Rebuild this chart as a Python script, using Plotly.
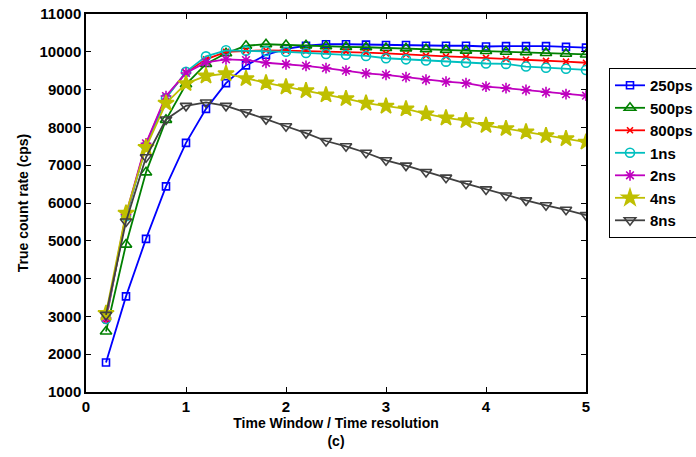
import plotly.graph_objects as go

x_vals = [round(0.2 * i, 1) for i in range(1, 26)]

names = ["250ps", "500ps", "800ps", "1ns", "2ns", "4ns", "8ns"]

ps250 = [1780, 3530, 5050, 6440, 7590, 8490, 9170, 9640, 9920, 10080, 10160, 10200, 10200,
         10190, 10180, 10180, 10160, 10160, 10160, 10140, 10150, 10150, 10150, 10130, 10110]
ps500 = [2600, 4900, 6810, 8200, 9140, 9680, 9960, 10160, 10200, 10180, 10170, 10150, 10130,
         10120, 10100, 10090, 10070, 10050, 10030, 10020, 10000, 9990, 9970, 9950, 9930]
ps800 = [2900, 5650, 7550, 8800, 9450, 9800, 10000, 10030, 10040, 10030, 10020, 10010, 10000,
         9980, 9960, 9930, 9900, 9880, 9860, 9840, 9810, 9790, 9760, 9740, 9710]
ns1 = [2930, 5650, 7500, 8770, 9470, 9880, 10040, 10030, 10020, 10000, 9970, 9940, 9920,
       9890, 9830, 9800, 9770, 9740, 9710, 9690, 9680, 9610, 9580, 9550, 9520]
ns2 = [2960, 5700, 7580, 8830, 9440, 9720, 9800, 9780, 9710, 9670, 9630, 9570, 9500,
       9430, 9390, 9330, 9260, 9210, 9170, 9080, 9040, 8990, 8930, 8880, 8840]
ns4 = [3080, 5730, 7470, 8640, 9160, 9360, 9420, 9290, 9180, 9070, 8970, 8860, 8760,
       8640, 8560, 8490, 8360, 8250, 8180, 8050, 7970, 7880, 7780, 7700, 7610]
ns8 = [3040, 5510, 7210, 8210, 8570, 8660, 8570, 8400, 8220, 8030, 7850, 7640, 7500,
       7330, 7130, 6990, 6820, 6670, 6510, 6360, 6200, 6070, 5940, 5820, 5680]

series = [ps250, ps500, ps800, ns1, ns2, ns4, ns8]
colors = ["#0000FF", "#008000", "#FF0000", "#00BFBF", "#BF00BF", "#BFBF00", "#404040"]
symbols = ["square-open", "triangle-up-open", "x-thin-open", "circle-open",
           "asterisk-open", "star", "triangle-down-open"]
sizes = [7, 10, 6, 9, 9, 12, 10]

x_ticks = [0, 1, 2, 3, 4, 5]
y_ticks = list(range(1000, 11001, 1000))
y_ticktext = [str(v) for v in y_ticks]

FONT = "Liberation Sans, Arial, sans-serif"

fig = go.Figure()
for name, ys, c, s, sz in zip(names, series, colors, symbols, sizes):
    fig.add_trace(go.Scatter(
        x=x_vals, y=ys, name=name, mode="lines+markers",
        line=dict(color=c, width=1.8),
        marker=dict(symbol=s, size=sz, color=c, line=dict(color=c, width=1.6)),
    ))

axis_common = dict(
    showline=True, linecolor="black", linewidth=1.5, mirror="ticks",
    ticks="inside", ticklen=5, tickwidth=1, tickcolor="black",
    showgrid=False, zeroline=False,
    tickfont=dict(family=FONT, size=15, color="black", weight="bold"),
)

fig.update_layout(
    width=696, height=457,
    margin=dict(l=86, r=110, t=14, b=65, autoexpand=False),
    paper_bgcolor="white", plot_bgcolor="white",
    xaxis=dict(range=[0, 5], tickvals=x_ticks,
               title=dict(text="Time Window / Time resolution<br>(c)",
                          font=dict(family=FONT, size=14, color="black", weight="bold"),
                          standoff=2),
               **axis_common),
    yaxis=dict(range=[1000, 11000], tickvals=y_ticks, ticktext=y_ticktext,
               title=dict(text="True count rate (cps)",
                          font=dict(family=FONT, size=14, color="black", weight="bold"),
                          standoff=8),
               **axis_common),
    legend=dict(x=1.046, y=0.857, xanchor="left", yanchor="top",
                bordercolor="black", borderwidth=1, bgcolor="white",
                font=dict(family=FONT, size=15, color="black", weight="bold"),
                itemwidth=30, tracegroupgap=0),
    showlegend=True,
)

fig.write_html("out.html")
